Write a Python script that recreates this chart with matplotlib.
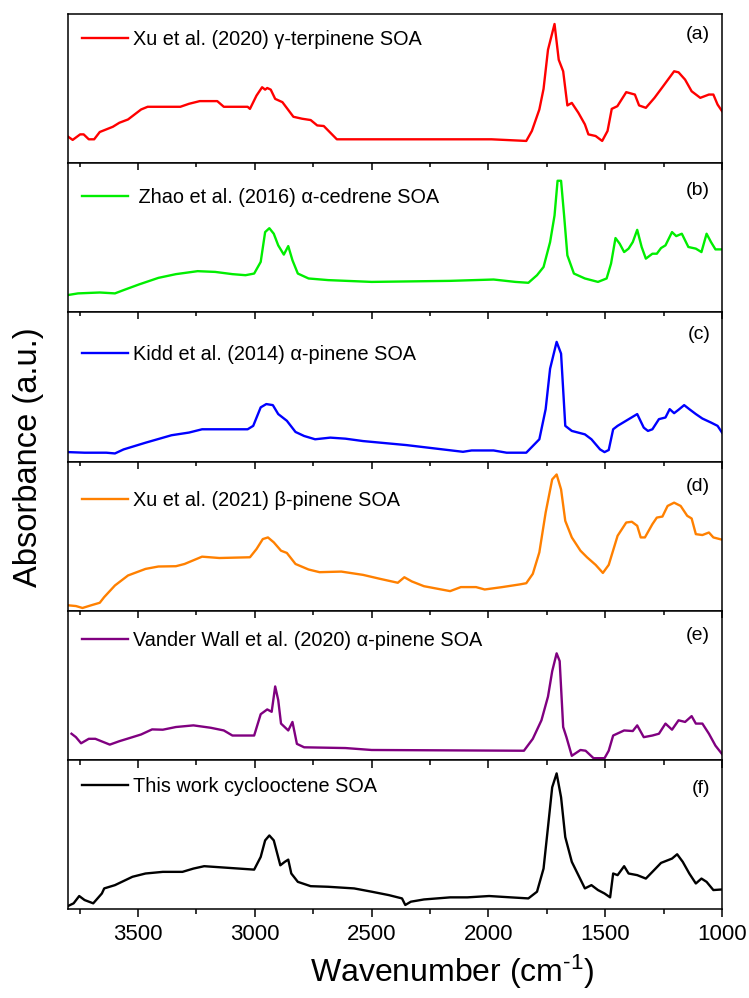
import matplotlib.pyplot as plt
import numpy as np
from matplotlib.ticker import MultipleLocator

plt.rcParams['font.family'] = ['Liberation Sans', 'DejaVu Sans']
plt.rcParams['mathtext.fontset'] = 'custom'
plt.rcParams['mathtext.rm'] = 'Liberation Sans'
plt.rcParams['mathtext.it'] = 'Liberation Sans'

# ---- spectra (wavenumber in cm-1, absorbance in a.u.) ----
wn_a = [3800, 3780, 3748, 3733, 3711, 3688, 3664, 3608, 3580, 3543, 3487, 3459, 3319, 3282,
        3236, 3161, 3133, 3031, 3021, 2993, 2969, 2956, 2947, 2932, 2913, 2882, 2835, 2798,
        2761, 2733, 2705, 2649, 1987, 1838, 1814, 1782, 1764, 1745, 1717, 1699, 1680, 1662,
        1643, 1615, 1587, 1572, 1541, 1513, 1490, 1472, 1448, 1410, 1373, 1355, 1326, 1289,
        1252, 1205, 1186, 1158, 1130, 1093, 1056, 1037, 1019, 1000]
ab_a = [0.178, 0.156, 0.193, 0.193, 0.160, 0.160, 0.209, 0.244, 0.271, 0.293, 0.360, 0.378,
        0.378, 0.398, 0.416, 0.416, 0.378, 0.378, 0.364, 0.453, 0.509, 0.493, 0.504, 0.493,
        0.431, 0.409, 0.311, 0.298, 0.289, 0.253, 0.249, 0.160, 0.160, 0.149, 0.216, 0.360,
        0.498, 0.760, 0.933, 0.693, 0.616, 0.387, 0.404, 0.338, 0.260, 0.193, 0.182, 0.149,
        0.216, 0.364, 0.382, 0.476, 0.460, 0.387, 0.371, 0.438, 0.516, 0.616, 0.609, 0.560,
        0.482, 0.438, 0.460, 0.460, 0.393, 0.349]

wn_b = [3800, 3757, 3664, 3599, 3562, 3496, 3413, 3338, 3245, 3170, 3096, 3040, 3003, 2975,
        2956, 2938, 2919, 2900, 2876, 2857, 2839, 2816, 2770, 2686, 2500, 2164, 1978, 1885,
        1829, 1792, 1764, 1736, 1717, 1704, 1689, 1676, 1662, 1634, 1587, 1531, 1494, 1475,
        1456, 1438, 1419, 1400, 1382, 1363, 1344, 1326, 1298, 1279, 1261, 1242, 1214, 1196,
        1172, 1144, 1112, 1088, 1066, 1047, 1028, 1000]
ab_b = [0.116, 0.127, 0.133, 0.127, 0.149, 0.187, 0.231, 0.256, 0.276, 0.271, 0.256, 0.249,
        0.260, 0.338, 0.538, 0.564, 0.527, 0.449, 0.387, 0.444, 0.349, 0.260, 0.227, 0.216,
        0.204, 0.211, 0.220, 0.204, 0.198, 0.249, 0.304, 0.471, 0.649, 0.882, 0.882, 0.649,
        0.382, 0.260, 0.227, 0.204, 0.227, 0.327, 0.498, 0.460, 0.404, 0.427, 0.471, 0.553,
        0.438, 0.360, 0.393, 0.393, 0.431, 0.449, 0.538, 0.511, 0.527, 0.438, 0.427, 0.404,
        0.527, 0.471, 0.422, 0.422]

wn_c = [3800, 3729, 3636, 3599, 3562, 3468, 3357, 3282, 3226, 3031, 3007, 2975, 2951, 2923,
        2900, 2863, 2826, 2789, 2742, 2677, 2612, 2537, 2351, 2109, 2072, 1978, 1922, 1838,
        1810, 1782, 1755, 1736, 1708, 1689, 1671, 1643, 1587, 1559, 1522, 1503, 1485, 1466,
        1447, 1363, 1335, 1317, 1298, 1270, 1242, 1224, 1205, 1186, 1162, 1140, 1112, 1084,
        1047, 1019, 1000]
ab_c = [0.063, 0.059, 0.059, 0.054, 0.081, 0.126, 0.176, 0.194, 0.216, 0.216, 0.239, 0.363,
        0.385, 0.378, 0.318, 0.273, 0.198, 0.171, 0.149, 0.160, 0.153, 0.137, 0.110, 0.065,
        0.074, 0.074, 0.059, 0.059, 0.104, 0.149, 0.351, 0.622, 0.802, 0.723, 0.239, 0.205,
        0.182, 0.149, 0.081, 0.063, 0.077, 0.216, 0.239, 0.318, 0.227, 0.205, 0.216, 0.284,
        0.295, 0.351, 0.324, 0.347, 0.378, 0.351, 0.318, 0.288, 0.261, 0.239, 0.194]

wn_d = [3800, 3766, 3738, 3701, 3664, 3645, 3599, 3543, 3468, 3413, 3338, 3301, 3226, 3152,
        3021, 2993, 2966, 2944, 2919, 2888, 2863, 2826, 2770, 2723, 2630, 2537, 2463, 2388,
        2360, 2328, 2276, 2164, 2118, 2053, 2016, 1941, 1866, 1838, 1810, 1782, 1755, 1727,
        1708, 1689, 1671, 1643, 1606, 1578, 1541, 1510, 1485, 1447, 1410, 1386, 1363, 1348,
        1330, 1298, 1279, 1255, 1233, 1205, 1177, 1149, 1130, 1112, 1084, 1056, 1037, 1000]
ab_d = [0.036, 0.031, 0.018, 0.036, 0.053, 0.091, 0.169, 0.236, 0.280, 0.296, 0.298, 0.313,
        0.362, 0.353, 0.358, 0.413, 0.480, 0.491, 0.458, 0.402, 0.387, 0.313, 0.276, 0.258,
        0.262, 0.240, 0.213, 0.187, 0.224, 0.196, 0.164, 0.131, 0.158, 0.158, 0.142, 0.158,
        0.176, 0.184, 0.247, 0.391, 0.658, 0.880, 0.913, 0.813, 0.602, 0.491, 0.402, 0.358,
        0.307, 0.253, 0.307, 0.502, 0.591, 0.596, 0.569, 0.491, 0.491, 0.580, 0.624, 0.631,
        0.702, 0.724, 0.702, 0.636, 0.618, 0.513, 0.507, 0.524, 0.491, 0.476]

wn_e = [3785, 3766, 3744, 3711, 3683, 3621, 3580, 3524, 3487, 3440, 3394, 3338, 3263, 3189,
        3133, 3096, 3003, 2975, 2947, 2928, 2913, 2900, 2888, 2857, 2839, 2820, 2789, 2612,
        2500, 1848, 1810, 1773, 1745, 1727, 1708, 1695, 1680, 1666, 1643, 1606, 1584, 1550,
        1503, 1485, 1466, 1419, 1382, 1363, 1335, 1298, 1270, 1242, 1214, 1186, 1158, 1130,
        1112, 1084, 1056, 1028, 1000]
ab_e = [0.175, 0.152, 0.111, 0.141, 0.141, 0.102, 0.125, 0.152, 0.170, 0.204, 0.202, 0.220,
        0.231, 0.215, 0.197, 0.163, 0.163, 0.306, 0.338, 0.322, 0.492, 0.401, 0.243, 0.197,
        0.254, 0.107, 0.084, 0.079, 0.066, 0.061, 0.141, 0.265, 0.424, 0.594, 0.714, 0.662,
        0.220, 0.152, 0.027, 0.066, 0.061, 0.011, 0.011, 0.061, 0.163, 0.197, 0.193, 0.231,
        0.152, 0.163, 0.175, 0.243, 0.202, 0.265, 0.254, 0.293, 0.243, 0.243, 0.175, 0.095,
        0.039]

wn_f = [3800, 3776, 3752, 3729, 3692, 3655, 3645, 3599, 3524, 3468, 3394, 3310, 3263, 3217,
        3133, 3003, 2975, 2956, 2938, 2919, 2891, 2872, 2857, 2844, 2816, 2761, 2686, 2575,
        2500, 2426, 2370, 2356, 2332, 2276, 2164, 2090, 1997, 1904, 1829, 1792, 1764, 1745,
        1727, 1708, 1689, 1671, 1643, 1615, 1587, 1559, 1531, 1503, 1479, 1466, 1447, 1419,
        1400, 1363, 1326, 1298, 1261, 1214, 1192, 1168, 1140, 1112, 1088, 1066, 1037, 1000]
ab_f = [0.020, 0.038, 0.087, 0.060, 0.038, 0.104, 0.138, 0.160, 0.216, 0.238, 0.249, 0.249,
        0.271, 0.287, 0.278, 0.264, 0.349, 0.460, 0.493, 0.460, 0.293, 0.316, 0.331, 0.238,
        0.182, 0.153, 0.149, 0.138, 0.116, 0.093, 0.071, 0.027, 0.049, 0.064, 0.078, 0.078,
        0.087, 0.078, 0.071, 0.116, 0.271, 0.549, 0.816, 0.909, 0.749, 0.482, 0.316, 0.227,
        0.138, 0.160, 0.127, 0.104, 0.078, 0.238, 0.227, 0.287, 0.238, 0.227, 0.204, 0.249,
        0.309, 0.338, 0.367, 0.316, 0.238, 0.171, 0.204, 0.182, 0.127, 0.131]

labels = ['Xu et al. (2020) γ-terpinene SOA',
          ' Zhao et al. (2016) α-cedrene SOA',
          'Kidd et al. (2014) α-pinene SOA',
          'Xu et al. (2021) β-pinene SOA',
          'Vander Wall et al. (2020) α-pinene SOA',
          'This work cyclooctene SOA']
letters = ['(a)', '(b)', '(c)', '(d)', '(e)', '(f)']
colors = ['#ff0000', '#00ee00', '#0000ff', '#ff8000', '#800080', '#000000']

wns = [wn_a, wn_b, wn_c, wn_d, wn_e, wn_f]
abss = [ab_a, ab_b, ab_c, ab_d, ab_e, ab_f]

fig = plt.figure(figsize=(7.49, 9.98), dpi=100)

left, right = 68 / 749, 722 / 749
top_px, bot_px = 14, 909
h_px = (bot_px - top_px) / 6
leg_y = [0.83, 0.77, 0.72, 0.74, 0.80, 0.82]
let_y = [0.86, 0.815, 0.85, 0.835, 0.832, 0.81]

for i in range(6):
    y0 = 1 - (top_px + (i + 1) * h_px) / 998
    ax = fig.add_axes([left, y0, right - left, h_px / 998])
    ax.plot(wns[i], abss[i], color=colors[i], lw=1.7, label=labels[i])
    ax.set_xlim(3800, 1000)
    ax.set_ylim(0, 1)
    ax.set_yticks([])
    for s in ax.spines.values():
        s.set_linewidth(1.1)
    ax.xaxis.set_major_locator(MultipleLocator(500))
    ax.xaxis.set_minor_locator(MultipleLocator(250))
    if i == 5:
        ax.tick_params(axis='x', which='both', bottom=True, top=True, labelbottom=True,
                       labelsize=16, width=1.1, pad=5)
        ax.tick_params(axis='x', which='major', length=6)
        ax.tick_params(axis='x', which='minor', length=3.5)
        # top ticks point inward, bottom ticks outward
        for t in ax.xaxis.get_major_ticks() + ax.xaxis.get_minor_ticks():
            t.tick2line.set_marker(3)
    elif i == 0:
        ax.tick_params(axis='x', which='both', bottom=False, top=False, labelbottom=False)
    else:
        ax.tick_params(axis='x', which='both', bottom=False, top=True, labelbottom=False,
                       direction='in', width=1.1)
        ax.tick_params(axis='x', which='major', length=5)
        ax.tick_params(axis='x', which='minor', length=3)
    ax.legend(loc='center left', bbox_to_anchor=(0.01, leg_y[i]), frameon=False,
              fontsize=14.3, handlelength=2.3, handletextpad=0.25, borderaxespad=0.0)
    ax.text(0.982, let_y[i], letters[i], transform=ax.transAxes, ha='right', va='center',
            fontsize=14)

fig.text(0.038, 1 - 457 / 998, 'Absorbance (a.u.)', rotation=90,
         ha='center', va='center', fontsize=23.5)
fig.text(452 / 749, 1 - 972 / 998, 'Wavenumber (cm$^{\u2010 1}$)',
         ha='center', va='center', fontsize=23)

fig.savefig('out.png', dpi=100)
